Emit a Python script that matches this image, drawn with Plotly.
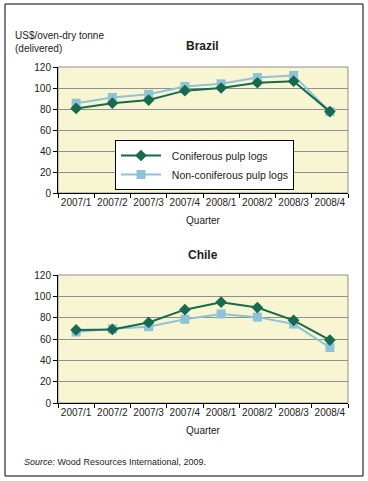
import plotly.graph_objects as go

quarters = ["2007/1", "2007/2", "2007/3", "2007/4", "2008/1", "2008/2", "2008/3", "2008/4"]
brazil_conif = [80.5, 85.5, 88.5, 97.5, 100, 105, 106.5, 77.5]
brazil_nonconif = [85.5, 91, 94, 101.5, 104, 110, 112, 77.5]
chile_conif = [68.5, 69, 75.5, 87.5, 94.5, 89.5, 77.5, 59]
chile_nonconif = [66.5, 69.5, 71.5, 78.5, 83.5, 80.5, 74, 52]
yticks = [0, 20, 40, 60, 80, 100, 120]

GREEN = "#17694f"
BLUE = "#8ec3d7"
FONT = "Liberation Sans, Arial, sans-serif"
W, H = 368, 481
NB = "\u00a0\u00a0"

fig = go.Figure()

def add_pair(conif, nonconif, xa, ya, show):
    fig.add_trace(go.Scatter(x=quarters, y=nonconif, mode="lines+markers", name=NB + "Non-coniferous pulp logs",
                             line=dict(color=BLUE, width=2), marker=dict(symbol="square", size=9, color=BLUE),
                             xaxis=xa, yaxis=ya, showlegend=show, legendrank=2))
    fig.add_trace(go.Scatter(x=quarters, y=conif, mode="lines+markers", name=NB + "Coniferous pulp logs",
                             line=dict(color=GREEN, width=2), marker=dict(symbol="diamond", size=9, color=GREEN),
                             xaxis=xa, yaxis=ya, showlegend=show, legendrank=1))

add_pair(brazil_conif, brazil_nonconif, "x", "y", True)
add_pair(chile_conif, chile_nonconif, "x2", "y2", False)

def px_x(p):
    return p / W

def px_y(p):
    return 1 - p / H

xdom = [px_x(58), px_x(348)]
ydom1 = [px_y(193), px_y(67)]
ydom2 = [px_y(403), px_y(275)]

xcommon = dict(type="category", domain=xdom, showline=True, linecolor="black", linewidth=1,
               ticks="outside", tickson="boundaries", ticklen=4, tickcolor="black",
               showgrid=False, tickangle=0, automargin=False,
               tickfont=dict(size=10, color="#222", family=FONT),
               title=dict(text="Quarter", font=dict(size=10, color="#222", family=FONT), standoff=9),
               range=[-0.5, 7.5])
ycommon = dict(range=[0, 120], tickvals=yticks, showline=True, linecolor="black", linewidth=1,
               ticks="outside", ticklen=4, tickcolor="black", showgrid=True, gridcolor="#8f8f8f",
               gridwidth=1, tickfont=dict(size=10, color="#222", family=FONT), zeroline=False,
               automargin=False)

fig.update_layout(
    width=W, height=H, margin=dict(l=0, r=0, t=0, b=0, autoexpand=False),
    paper_bgcolor="white", plot_bgcolor="#f8f6d2",
    font=dict(family=FONT, size=10, color="#222"),
    xaxis=dict(**xcommon, anchor="y"),
    yaxis=dict(**ycommon, domain=ydom1, anchor="x"),
    xaxis2=dict(**xcommon, anchor="y2"),
    yaxis2=dict(**ycommon, domain=ydom2, anchor="x2"),
    legend=dict(x=px_x(115), y=px_y(140), xanchor="left", yanchor="top",
                bgcolor="white", bordercolor="black", borderwidth=1,
                font=dict(size=10.5, color="#222", family=FONT), tracegroupgap=0,
                itemwidth=40),
    showlegend=True,
)

shapes = [
    dict(type="rect", xref="paper", yref="paper", x0=px_x(5), x1=px_x(363), y0=px_y(476), y1=px_y(4),
         line=dict(color="black", width=1)),
    dict(type="rect", xref="x domain", yref="y domain", x0=0, x1=1, y0=0, y1=1,
         line=dict(color="#8f8f8f", width=1), layer="below"),
    dict(type="rect", xref="x2 domain", yref="y2 domain", x0=0, x1=1, y0=0, y1=1,
         line=dict(color="#8f8f8f", width=1), layer="below"),
]
fig.update_layout(shapes=shapes)

annotations = [
    dict(text="US$/oven-dry tonne<br>(delivered)", x=px_x(13), y=px_y(28), xref="paper", yref="paper",
         xanchor="left", yanchor="top", showarrow=False, align="left",
         font=dict(size=10, color="#222", family=FONT)),
    dict(text="<b>Brazil</b>", x=(xdom[0] + xdom[1]) / 2, y=px_y(46), xref="paper", yref="paper",
         xanchor="center", yanchor="middle", showarrow=False, font=dict(size=12, color="#222", family=FONT)),
    dict(text="<b>Chile</b>", x=(xdom[0] + xdom[1]) / 2, y=px_y(255), xref="paper", yref="paper",
         xanchor="center", yanchor="middle", showarrow=False, font=dict(size=12, color="#222", family=FONT)),
    dict(text="<i>Source:</i> Wood Resources International, 2009.", x=px_x(22), y=px_y(462), xref="paper",
         yref="paper", xanchor="left", yanchor="middle", showarrow=False,
         font=dict(size=9, color="#222", family=FONT)),
]
fig.update_layout(annotations=annotations)

fig.write_html("out.html", config={"displayModeBar": False},
               post_script="document.body.style.margin='0';")
